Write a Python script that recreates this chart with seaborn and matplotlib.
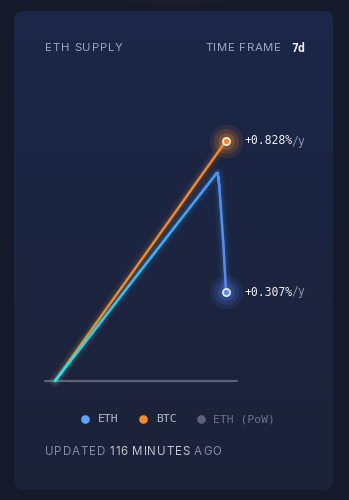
import numpy as np
import pandas as pd
import matplotlib
matplotlib.use("Agg")
import matplotlib.pyplot as plt
import seaborn as sns
from matplotlib.collections import LineCollection
from matplotlib.patches import FancyBboxPatch
from matplotlib.colors import LinearSegmentedColormap, to_rgb

# ---------------- data ----------------
btc_days = [0, 1, 2, 3, 4, 5, 6, 7]
btc_supply = [0.0, 0.118, 0.237, 0.355, 0.473, 0.591, 0.710, 0.828]

eth_days = [0, 0.5, 1, 1.5, 2, 3, 4, 5, 6, 6.60, 6.65, 6.69, 6.73, 6.89, 7.0]
eth_supply = [0.0, 0.055, 0.109, 0.163, 0.217, 0.326, 0.434, 0.542, 0.650,
              0.715, 0.718, 0.700, 0.668, 0.476, 0.307]

btc_label = "+0.828%"
eth_label = "+0.307%"
legend_names = ["ETH", "BTC", "ETH (PoW)"]
title = "ETH SUPPLY"
timeframe_label = "TIME FRAME"
timeframe_value = "7d"

# ---------------- figure ----------------
W, H = 349, 500
sns.set_theme(style="dark")
plt.rcParams["font.family"] = ["DejaVu Sans"]
fig = plt.figure(figsize=(W / 100, H / 100), dpi=100)
fig.patch.set_facecolor("#141a2a")

def fx(x):
    return x / W

def fy(y):
    return 1 - y / H

# background axes for card
bg = fig.add_axes([0, 0, 1, 1], zorder=0)
bg.set_xlim(0, W)
bg.set_ylim(H, 0)
bg.axis("off")
card = FancyBboxPatch((14, 11), 319, 479, boxstyle="round,pad=0,rounding_size=9",
                      facecolor="none", edgecolor="none")
bg.add_patch(card)
top = np.array(to_rgb("#1b2749"))
bot = np.array(to_rgb("#1d2238"))
t = np.linspace(0, 1, 256)[:, None, None]
grad = top * (1 - t) + bot * t
grad = np.repeat(grad, 2, axis=1)
im = bg.imshow(grad, extent=(14, 333, 490, 11), aspect="auto", zorder=1)
im.set_clip_path(card)
glow = bg.imshow(np.dstack([np.full((60, 200), c) for c in to_rgb("#3a2a45")] +
                           [np.outer(np.linspace(0.5, 0, 60) ** 2, np.hanning(200))]),
                 extent=(75, 275, 11, 0), aspect="auto", zorder=0.5)

# ---------------- main chart ----------------
x_per_px = 7 / 171.0
y_per_px = 0.828 / 240.0
ax_left, ax_right, ax_top, ax_bottom = 45, 237, 130, 381
ax = fig.add_axes([fx(ax_left), fy(ax_bottom), (ax_right - ax_left) / W,
                   (ax_bottom - ax_top) / H], zorder=2)
ax.set_xlim(-(55 - ax_left) * x_per_px, (ax_right - 55) * x_per_px)
ax.set_ylim(0, (ax_bottom - ax_top) * y_per_px)
ax.patch.set_alpha(0)
for s in ax.spines.values():
    s.set_visible(False)
ax.set_xticks([])
ax.set_yticks([])
ax.grid(False)

ax.axhline(0, color="#5b6177", lw=1.6, zorder=2, clip_on=False)

btc_df = pd.DataFrame({"day": btc_days, "supply": btc_supply})
eth_df = pd.DataFrame({"day": eth_days, "supply": eth_supply})

# glows
for lw, a in [(9, 0.04), (6, 0.07), (3.5, 0.10)]:
    sns.lineplot(data=btc_df, x="day", y="supply", ax=ax, color="#f7902a",
                 lw=lw, alpha=a, zorder=3, legend=False)
    sns.lineplot(data=eth_df, x="day", y="supply", ax=ax, color="#3fb0f5",
                 lw=lw, alpha=a, zorder=3, legend=False)
for ln in ax.lines:
    ln.set_clip_on(False)
    ln.set_solid_capstyle("round")
    ln.set_solid_joinstyle("round")

sns.lineplot(data=btc_df, x="day", y="supply", ax=ax, color="#f78a22",
             lw=1.7, zorder=5, legend=False)
ax.lines[-1].set_clip_on(False)
ax.set_xlabel("")
ax.set_ylabel("")

# ETH gradient line (cyan -> blue)
ex = np.array(eth_days, float)
ey = np.array(eth_supply, float)
sub_x, sub_y = [], []
for i in range(len(ex) - 1):
    n = 20
    tt = np.linspace(0, 1, n, endpoint=False)
    sub_x.extend(ex[i] + (ex[i + 1] - ex[i]) * tt)
    sub_y.extend(ey[i] + (ey[i + 1] - ey[i]) * tt)
sub_x.append(ex[-1]); sub_y.append(ey[-1])
pts = np.column_stack([sub_x, sub_y]).reshape(-1, 1, 2)
segs = np.concatenate([pts[:-1], pts[1:]], axis=1)
cmap = LinearSegmentedColormap.from_list(
    "ethgrad", [(0, "#12f0e6"), (0.2, "#22d6ee"), (0.5, "#30bef5"),
                (0.9, "#4a98f5"), (1.0, "#5a88f5")])
frac = np.array(sub_x[:-1]) / 7.0
lc = LineCollection(segs, colors=cmap(frac), linewidths=1.7, zorder=6,
                    capstyle="round", joinstyle="round", clip_on=False)
ax.add_collection(lc)

# end markers
for (xd, yd, col, halo) in [(btc_days[-1], btc_supply[-1], "#f78a22", "#f7902a"),
                           (eth_days[-1], eth_supply[-1], "#5b8cf5", "#4f7ff0")]:
    for ms, a in [(24, 0.10), (18, 0.15), (12, 0.22)]:
        ax.plot([xd], [yd], "o", ms=ms, color=halo, alpha=a, mec="none",
                zorder=7, clip_on=False)
    ax.plot([xd], [yd], "o", ms=5.2, mfc=col, mec="#f4f1ec", mew=1.2,
            zorder=9, clip_on=False)

# value labels
mono = "DejaVu Sans Mono"
lab_fs = 8.3
char_px = 0.602 * lab_fs * 100 / 72
for lab, y in [(btc_label, 141), (eth_label, 292)]:
    fig.text(fx(244), fy(y), lab, color="#eceef3", fontsize=lab_fs,
             family=mono, va="center", ha="left", zorder=11)
    fig.text(fx(244 + len(lab) * char_px - 1.2), fy(y), "/y", color="#8c93a8",
             fontsize=lab_fs, family=mono, va="center", ha="left", zorder=10)

# ---------------- texts ----------------
fig.canvas.draw()
renderer = fig.canvas.get_renderer()

def ink_width(s, fontsize, family, weight):
    tmp = fig.text(0, 0, s, fontsize=fontsize, family=family, weight=weight)
    w = tmp.get_window_extent(renderer).width
    tmp.remove()
    return w

def spaced(x, y, s, spacing, fontsize, color, family="Inter", weight="normal"):
    space_px = fontsize * 100 / 72 * 0.30
    end = x
    for i, ch in enumerate(s):
        if ch == " ":
            continue
        pre = s[:i + 1]
        n_sp = pre.count(" ")
        right = x + ink_width(pre.replace(" ", ""), fontsize, family, weight) \
            if False else x + ink_width(pre.replace(" ", "i"), fontsize, family, weight)
        right += i * spacing + n_sp * (space_px - ink_width("i", fontsize, family, weight))
        fig.text(fx(right), fy(y), ch, color=color, fontsize=fontsize,
                 family=family, weight=weight, va="center", ha="right")
        end = right
    return end + spacing

spaced(45, 48, title, 0.85, 8.2, "#9ea6bd")
spaced(205, 48, timeframe_label, 0.75, 8.2, "#9ea6bd")
fig.text(fx(291), fy(48), timeframe_value, color="#eef0f5", fontsize=8.4,
         family=mono, weight="bold", va="center", ha="left")

# legend
leg_dots = [(85, "#62a4f4"), (143, "#f68b2a"), (201, "#5d6279")]
leg_text_x = [98, 156, 213]
leg_cols = ["#b7bed0", "#b7bed0", "#6c7289"]
for (dx, dc), tx_, name, tc in zip(leg_dots, leg_text_x, legend_names, leg_cols):
    bg.plot([dx], [419], "o", ms=6.2, color=dc, mec="none", zorder=5)
    fig.text(fx(tx_), fy(419), name, color=tc, fontsize=8.2, family=mono,
             va="center", ha="left")

# updated line
xx = spaced(45, 452, "UPDATED", 0.9, 8.3, "#868da2")
xx = spaced(xx + 3.5, 452, "116", 0.9, 8.3, "#c2c6d2")
xx = spaced(xx + 3.5, 452, "MINUTES", 0.9, 8.3, "#c2c6d2")
xx = spaced(xx + 3.5, 452, "AGO", 0.9, 8.3, "#868da2")

fig.savefig("out.png", dpi=100, facecolor=fig.get_facecolor())
